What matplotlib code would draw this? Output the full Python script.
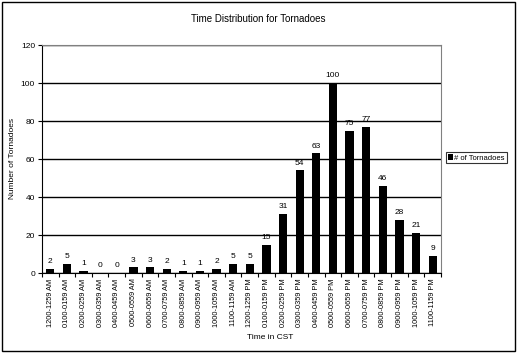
import matplotlib
matplotlib.use("Agg")
import matplotlib.pyplot as plt
import numpy as np
from matplotlib.patches import Rectangle

plt.rcParams['font.family'] = ['Liberation Sans', 'DejaVu Sans']

time_labels = ["1200-1259 AM", "0100-0159 AM", "0200-0259 AM", "0300-0359 AM",
               "0400-0459 AM", "0500-0559 AM", "0600-0659 AM", "0700-0759 AM",
               "0800-0859 AM", "0900-0959 AM", "1000-1059 AM", "1100-1159 AM",
               "1200-1259 PM", "0100-0159 PM", "0200-0259 PM", "0300-0359 PM",
               "0400-0459 PM", "0500-0559 PM", "0600-0659 PM", "0700-0759 PM",
               "0800-0859 PM", "0900-0959 PM", "1000-1059 PM", "1100-1159 PM"]
tornadoes = [2, 5, 1, 0, 0, 3, 3, 2, 1, 1, 2, 5, 5, 15, 31, 54, 63, 100, 75, 77, 46, 28, 21, 9]

fig = plt.figure(figsize=(5.17, 3.53), dpi=100)
fig.patches.append(Rectangle((0.004, 0.006), 0.992, 0.988, transform=fig.transFigure,
                             fill=False, edgecolor='black', linewidth=1.0))

ax = fig.add_axes([0.0812, 0.2266, 0.7718, 0.6459])
x = np.arange(len(tornadoes))
bars = ax.bar(x, tornadoes, width=0.5, color='black', label='# of Tornadoes', zorder=3)

for xi, v in zip(x, tornadoes):
    ax.text(xi, v + 2, str(v), ha='center', va='bottom', fontsize=6)

ax.set_xlim(-0.5, len(tornadoes) - 0.5)
ax.set_ylim(0, 120)
ax.set_yticks(range(0, 121, 20))
ax.yaxis.grid(True, color='black', linewidth=1.0, zorder=0)
ax.tick_params(axis='y', labelsize=6, length=3, width=0.8, direction='out', pad=2)

ax.set_xticks(x)
ax.set_xticklabels(time_labels, rotation=90, fontsize=5.3)
ax.set_xticks(np.arange(-0.5, len(tornadoes), 1), minor=True)
ax.tick_params(axis='x', which='major', length=0, pad=4)
ax.tick_params(axis='x', which='minor', length=3, width=0.8, direction='out')

for side in ['top', 'right']:
    ax.spines[side].set_color('#808080')
ax.spines['left'].set_color('black')
ax.spines['bottom'].set_color('black')

fig.text(0.5, 0.945, 'Time Distribution for Tornadoes', ha='center', va='center', fontsize=7)
fig.text(0.523, 0.045, 'Time in CST', ha='center', va='center', fontsize=6)
fig.text(0.024, 0.55, 'Number of Tornadoes', ha='center', va='center', rotation=90, fontsize=6)

leg = ax.legend(loc='center left', bbox_to_anchor=(1.013, 0.505), fontsize=5.5, frameon=True,
                fancybox=False, edgecolor='black', handlelength=0.6, handleheight=0.7,
                handletextpad=0.2, borderpad=0.25, borderaxespad=0)
leg.get_frame().set_linewidth(0.8)

fig.savefig('out.png', dpi=100)
